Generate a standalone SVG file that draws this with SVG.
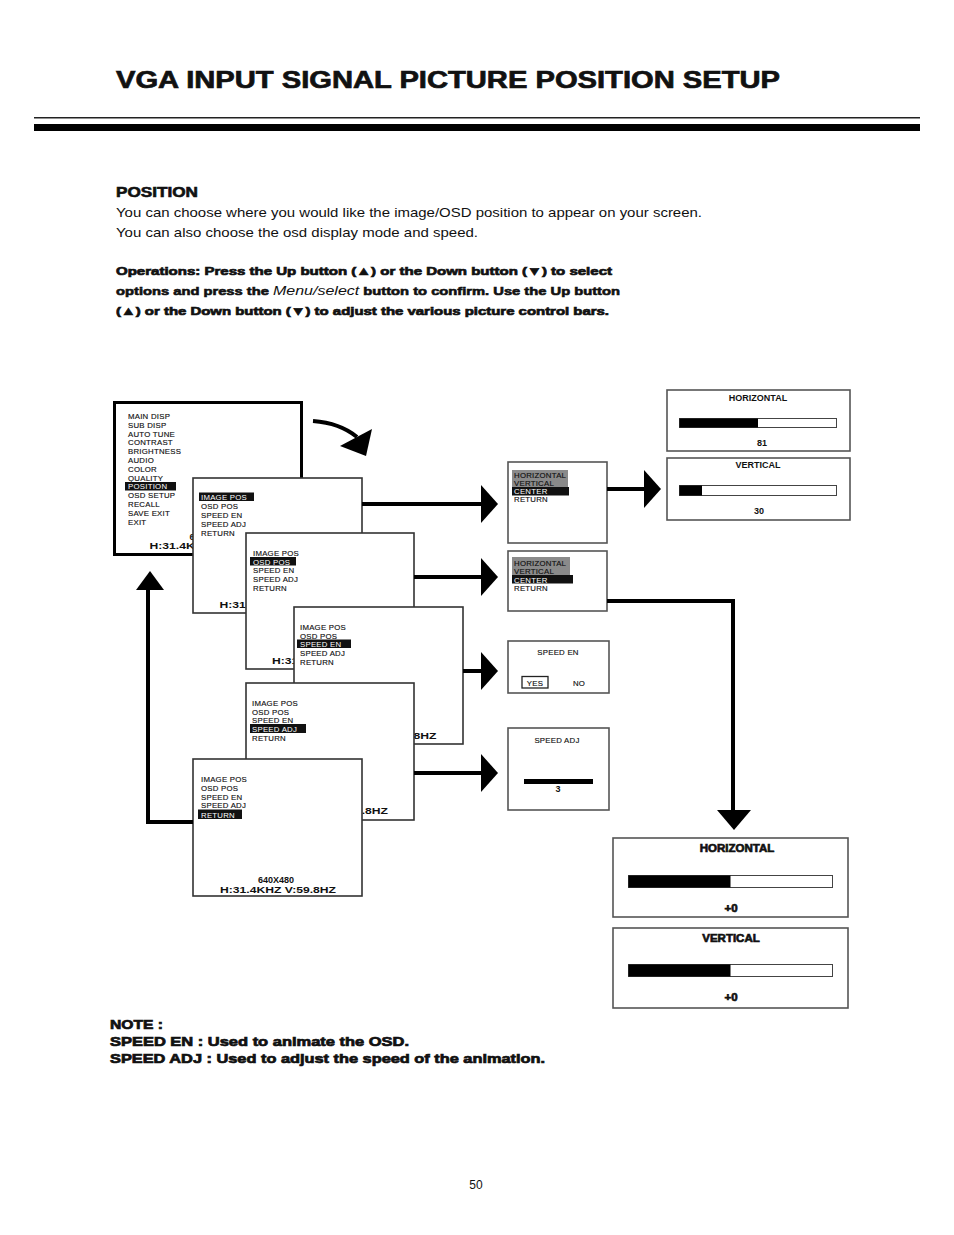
<svg xmlns="http://www.w3.org/2000/svg" width="954" height="1235" viewBox="0 0 954 1235">
<style>
.t{font-family:"Liberation Sans",Arial,sans-serif;fill:#111}
.hv{font-weight:bold;stroke:#111;stroke-width:0.7}
.m{font-family:"Liberation Sans",Arial,sans-serif;font-size:7.8px;letter-spacing:0.25px;fill:#111;stroke:#111;stroke-width:0.15}
.mw{font-family:"Liberation Sans",Arial,sans-serif;font-size:7.8px;letter-spacing:0.25px;fill:#fff}
.mb{font-family:"Liberation Sans",Arial,sans-serif;font-size:9px;font-weight:bold;fill:#111}
.box{fill:#fff;stroke:#333;stroke-width:1.6}
.rbox{fill:#fff;stroke:#555;stroke-width:1.6}
.bar{fill:#fff;stroke:#444;stroke-width:1}
.ln{fill:none;stroke:#000;stroke-width:4}
</style>
<defs>
<polygon id="ahR" points="0,-19 17,0 0,19" fill="#000"/>
</defs>
<rect width="954" height="1235" fill="#fff"/>

<g id="header">
<text class="t hv" x="116" y="88" font-size="24" stroke-width="1.2" textLength="664" lengthAdjust="spacingAndGlyphs">VGA INPUT SIGNAL PICTURE POSITION SETUP</text>
<rect x="34" y="117" width="886" height="1.5" fill="#222"/>
<rect x="34" y="124" width="886" height="7" fill="#000"/>
</g>

<g id="intro">
<text class="t" x="116" y="197" font-size="14" font-weight="bold" stroke="#111" stroke-width="0.6" textLength="82" lengthAdjust="spacingAndGlyphs">POSITION</text>
<text class="t" x="116" y="217" font-size="13.5" textLength="586" lengthAdjust="spacingAndGlyphs">You can choose where you would like the image/OSD position to appear on your screen.</text>
<text class="t" x="116" y="237" font-size="13.5" textLength="362" lengthAdjust="spacingAndGlyphs">You can also choose the osd display mode and speed.</text>
<text class="t hv" x="116" y="275" font-size="11.5" stroke-width="0.6" textLength="496" lengthAdjust="spacingAndGlyphs">Operations:  Press the Up button (▲) or the Down button (▼) to select</text>
<text class="t" x="116" y="295" font-size="11.5" textLength="504" lengthAdjust="spacingAndGlyphs"><tspan font-weight="bold" stroke="#111" stroke-width="0.6">options and press the </tspan><tspan font-style="italic" font-size="12.5">Menu/select</tspan><tspan font-weight="bold" stroke="#111" stroke-width="0.6"> button to confirm. Use the Up button</tspan></text>
<text class="t hv" x="116" y="315" font-size="11.5" stroke-width="0.6" textLength="493" lengthAdjust="spacingAndGlyphs">(▲) or the Down button (▼) to adjust the various picture control bars.</text>
</g>

<g id="menu-main">
<rect x="114.5" y="402.5" width="187" height="152" fill="#fff" stroke="#000" stroke-width="3"/>
<text class="m" x="128" y="419">MAIN DISP</text>
<text class="m" x="128" y="427.8">SUB DISP</text>
<text class="m" x="128" y="436.6">AUTO TUNE</text>
<text class="m" x="128" y="445.4">CONTRAST</text>
<text class="m" x="128" y="454.2">BRIGHTNESS</text>
<text class="m" x="128" y="463">AUDIO</text>
<text class="m" x="128" y="471.8">COLOR</text>
<text class="m" x="128" y="480.6">QUALITY</text>
<rect x="125" y="482" width="51" height="8.5" fill="#111"/>
<text class="mw" x="128" y="489.4">POSITION</text>
<text class="m" x="128" y="498.2">OSD SETUP</text>
<text class="m" x="128" y="507">RECALL</text>
<text class="m" x="128" y="515.8">SAVE EXIT</text>
<text class="m" x="128" y="524.6">EXIT</text>
<text class="mb" x="207.5" y="540" text-anchor="middle">640X480</text>
<text class="mb" x="207.5" y="549" text-anchor="middle" textLength="116" lengthAdjust="spacingAndGlyphs">H:31.4KHZ V:59.8HZ</text>
</g>

<g id="menu-image-pos">
<rect class="box" x="193" y="478" width="169" height="135"/>
<rect x="199" y="492.5" width="55" height="8.5" fill="#111"/>
<text class="mw" x="201" y="500">IMAGE POS</text>
<text class="m" x="201" y="509">OSD POS</text>
<text class="m" x="201" y="518">SPEED EN</text>
<text class="m" x="201" y="526.5">SPEED ADJ</text>
<text class="m" x="201" y="535.5">RETURN</text>
<text class="mb" x="277.5" y="599" text-anchor="middle">640X480</text>
<text class="mb" x="277.5" y="608" text-anchor="middle" textLength="116" lengthAdjust="spacingAndGlyphs">H:31.4KHZ V:59.8HZ</text>
</g>

<g id="menu-osd-pos">
<rect class="box" x="246" y="533" width="168" height="136"/>
<text class="m" x="253" y="555.5">IMAGE POS</text>
<rect x="250" y="557" width="46" height="8.5" fill="#111"/>
<text class="mw" x="253" y="564.5">OSD POS</text>
<text class="m" x="253" y="573">SPEED EN</text>
<text class="m" x="253" y="582">SPEED ADJ</text>
<text class="m" x="253" y="591">RETURN</text>
<text class="mb" x="330" y="655" text-anchor="middle">640X480</text>
<text class="mb" x="330" y="664" text-anchor="middle" textLength="116" lengthAdjust="spacingAndGlyphs">H:31.4KHZ V:59.8HZ</text>
</g>

<g id="menu-speed-en">
<rect class="box" x="294" y="607" width="169" height="137"/>
<text class="m" x="300" y="630">IMAGE POS</text>
<text class="m" x="300" y="638.5">OSD POS</text>
<rect x="297" y="639.5" width="54" height="8.5" fill="#111"/>
<text class="mw" x="300" y="647">SPEED EN</text>
<text class="m" x="300" y="656">SPEED ADJ</text>
<text class="m" x="300" y="665">RETURN</text>
<text class="mb" x="378.5" y="730" text-anchor="middle">640X480</text>
<text class="mb" x="378.5" y="739" text-anchor="middle" textLength="116" lengthAdjust="spacingAndGlyphs">H:31.4KHZ V:59.8HZ</text>
</g>

<g id="menu-speed-adj">
<rect class="box" x="246" y="683" width="168" height="137"/>
<text class="m" x="252" y="706">IMAGE POS</text>
<text class="m" x="252" y="714.5">OSD POS</text>
<text class="m" x="252" y="723">SPEED EN</text>
<rect x="250" y="724" width="56" height="9" fill="#111"/>
<text class="mw" x="252" y="732">SPEED ADJ</text>
<text class="m" x="252" y="740.5">RETURN</text>
<text class="mb" x="330" y="805" text-anchor="middle">640X480</text>
<text class="mb" x="330" y="814" text-anchor="middle" textLength="116" lengthAdjust="spacingAndGlyphs">H:31.4KHZ V:59.8HZ</text>
</g>

<g id="menu-return">
<rect class="box" x="193" y="759" width="169" height="137"/>
<text class="m" x="201" y="782">IMAGE POS</text>
<text class="m" x="201" y="790.5">OSD POS</text>
<text class="m" x="201" y="799.5">SPEED EN</text>
<text class="m" x="201" y="808">SPEED ADJ</text>
<rect x="198" y="809.5" width="44" height="9.5" fill="#111"/>
<text class="mw" x="201" y="817.5">RETURN</text>
<text class="mb" x="276" y="883" text-anchor="middle">640X480</text>
<text class="mb" x="278" y="893" text-anchor="middle" textLength="116" lengthAdjust="spacingAndGlyphs">H:31.4KHZ V:59.8HZ</text>
</g>

<g id="sub-image-pos">
<rect class="rbox" x="508" y="462" width="99" height="81"/>
<rect x="512" y="470" width="56" height="17" fill="#8a8a8a"/>
<rect x="512" y="487" width="57" height="8.5" fill="#111"/>
<text class="m" x="514" y="477.5">HORIZONTAL</text>
<text class="m" x="514" y="485.5">VERTICAL</text>
<text class="mw" x="514" y="494">CENTER</text>
<text class="m" x="514" y="502">RETURN</text>
</g>

<g id="sub-osd-pos">
<rect class="rbox" x="508" y="551" width="99" height="60"/>
<rect x="512" y="557" width="58" height="18" fill="#8a8a8a"/>
<rect x="512" y="575" width="61" height="8.5" fill="#111"/>
<text class="m" x="514" y="565.5">HORIZONTAL</text>
<text class="m" x="514" y="573.5">VERTICAL</text>
<text class="mw" x="514" y="582.5">CENTER</text>
<text class="m" x="514" y="591">RETURN</text>
</g>

<g id="sub-speed-en">
<rect class="rbox" x="508" y="641" width="101" height="52"/>
<text class="m" x="558" y="655" text-anchor="middle">SPEED EN</text>
<rect x="522" y="676.5" width="26" height="11.5" fill="#fff" stroke="#222" stroke-width="1.3"/>
<text class="m" x="535" y="685.5" text-anchor="middle">YES</text>
<text class="m" x="579" y="686" text-anchor="middle">NO</text>
</g>

<g id="sub-speed-adj">
<rect class="rbox" x="508" y="728" width="101" height="82"/>
<text class="m" x="557" y="743" text-anchor="middle">SPEED ADJ</text>
<rect x="524" y="779" width="69" height="5" fill="#000"/>
<text class="mb" x="558" y="792" text-anchor="middle" font-size="8">3</text>
</g>

<g id="bars-image-pos">
<rect class="rbox" x="667" y="390" width="183" height="61"/>
<text class="mb" x="758" y="401" text-anchor="middle" font-size="8.5">HORIZONTAL</text>
<rect class="bar" x="679.5" y="418.5" width="157" height="9"/>
<rect x="679.5" y="418.5" width="78.5" height="9" fill="#000"/>
<text class="mb" x="762" y="446" text-anchor="middle" font-size="8.5">81</text>
<rect class="rbox" x="667" y="458" width="183" height="62"/>
<text class="mb" x="758" y="468" text-anchor="middle" font-size="8.5">VERTICAL</text>
<rect class="bar" x="679.5" y="485.5" width="157" height="10"/>
<rect x="679.5" y="485.5" width="22.5" height="10" fill="#000"/>
<text class="mb" x="759" y="514" text-anchor="middle" font-size="8.5">30</text>
</g>

<g id="bars-osd-pos">
<rect class="rbox" x="613" y="838" width="235" height="79"/>
<text class="t hv" x="737" y="852" text-anchor="middle" font-size="11.5" stroke-width="0.5">HORIZONTAL</text>
<rect class="bar" x="628.5" y="875.5" width="204" height="12"/>
<rect x="628.5" y="875.5" width="102" height="12" fill="#000"/>
<text class="t hv" x="731" y="912" text-anchor="middle" font-size="11.5" stroke-width="0.5">+0</text>
<rect class="rbox" x="613" y="928" width="235" height="80"/>
<text class="t hv" x="731" y="942" text-anchor="middle" font-size="11.5" stroke-width="0.5">VERTICAL</text>
<rect class="bar" x="628.5" y="964.5" width="204" height="12"/>
<rect x="628.5" y="964.5" width="102" height="12" fill="#000"/>
<text class="t hv" x="731" y="1001" text-anchor="middle" font-size="11.5" stroke-width="0.5">+0</text>
</g>

<g id="connectors">
<path class="ln" d="M313,421 Q340,423 357,437"/>
<polygon points="372,429 366,456 340,446" fill="#000"/>
<line class="ln" x1="362" y1="504" x2="484" y2="504"/>
<use href="#ahR" x="481" y="504"/>
<line class="ln" x1="414" y1="577" x2="484" y2="577"/>
<use href="#ahR" x="481" y="577"/>
<line class="ln" x1="463" y1="671" x2="484" y2="671"/>
<use href="#ahR" x="481" y="671"/>
<line class="ln" x1="414" y1="773" x2="484" y2="773"/>
<use href="#ahR" x="481" y="773"/>
<line class="ln" x1="607" y1="489" x2="646" y2="489"/>
<use href="#ahR" x="644" y="489"/>
<polyline class="ln" points="607,601 733,601 733,812"/>
<polygon points="717,810 751,810 734,830" fill="#000"/>
<polyline class="ln" points="193,822 148,822 148,588"/>
<polygon points="136,590 164,590 150,571" fill="#000"/>
</g>

<g id="note">
<text class="t hv" x="110" y="1029" font-size="12.5" stroke-width="0.7" textLength="53" lengthAdjust="spacingAndGlyphs">NOTE :</text>
<text class="t hv" x="110" y="1046" font-size="12.5" stroke-width="0.7" textLength="299" lengthAdjust="spacingAndGlyphs">SPEED EN :  Used to animate the OSD.</text>
<text class="t hv" x="110" y="1063" font-size="12.5" stroke-width="0.7" textLength="435" lengthAdjust="spacingAndGlyphs">SPEED ADJ : Used to adjust the speed of the animation.</text>
</g>

<text class="t" x="476" y="1189" font-size="12" text-anchor="middle">50</text>
</svg>
